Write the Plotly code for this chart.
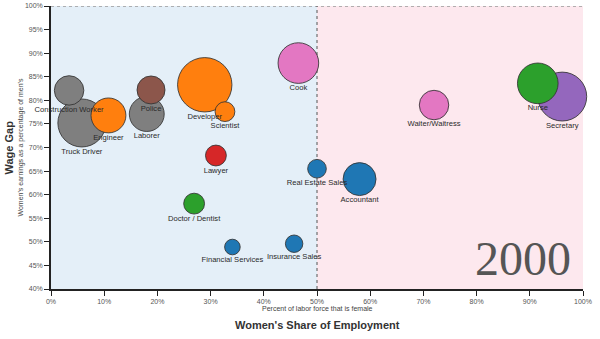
import plotly.graph_objects as go

jobs = ["Construction Worker", "Truck Driver", "Engineer", "Police", "Laborer",
        "Developer", "Scientist", "Cook", "Lawyer", "Doctor / Dentist",
        "Real Estate Sales", "Accountant", "Financial Services", "Insurance Sales",
        "Waiter/Waitress", "Nurse", "Secretary"]
pct_female = [3.4, 5.8, 10.8, 18.8, 18.0, 28.9, 32.7, 46.5, 31.0, 26.9,
              50.0, 58.0, 34.1, 45.7, 72.0, 91.5, 96.1]
wage_ratio = [82.1, 75.2, 76.8, 82.2, 77.1, 83.3, 77.6, 87.9, 68.3, 58.1,
              65.5, 63.3, 48.9, 49.6, 79.0, 83.6, 80.8]
employment = [2.0, 5.3, 2.8, 1.8, 2.8, 6.8, 0.9, 3.8, 1.0, 1.0,
              0.8, 2.5, 0.56, 0.7, 2.0, 3.8, 5.5]
colors = ["#7f7f7f", "#7f7f7f", "#ff7f0e", "#8c564b", "#7f7f7f",
          "#ff7f0e", "#ff7f0e", "#e377c2", "#d62728", "#2ca02c",
          "#1f77b4", "#1f77b4", "#1f77b4", "#1f77b4",
          "#e377c2", "#2ca02c", "#9467bd"]
x_ticks = list(range(0, 101, 10))
y_ticks = list(range(40, 101, 5))
x_tick_labels = [f"{v}%" for v in x_ticks]
y_tick_labels = [f"{v}%" for v in y_ticks]
year = "2000"

SIZEREF = 0.0046

# draw larger bubbles first so small ones sit on top
order = sorted(range(len(jobs)), key=lambda i: -employment[i])
xs = [pct_female[i] for i in order]
ys = [wage_ratio[i] for i in order]
sz = [employment[i] for i in order]

fig = go.Figure()
fig.add_trace(go.Scatter(
    x=xs, y=ys, text=[jobs[i] for i in order],
    mode="markers",
    marker=dict(size=sz, sizemode="area", sizeref=SIZEREF,
                color=[colors[i] for i in order], opacity=1,
                line=dict(color="rgba(50,50,50,0.85)", width=1)),
    cliponaxis=False,
    hoverinfo="text",
))
# labels: invisible markers scaled so the text sits just under each bubble
fig.add_trace(go.Scatter(
    x=xs, y=ys, text=[jobs[i] for i in order],
    mode="markers+text",
    textposition="bottom center",
    textfont=dict(family="Liberation Sans, Arial", size=7.6, color="#2a2a2a"),
    marker=dict(size=sz, sizemode="area", sizeref=SIZEREF / 0.64, opacity=0),
    cliponaxis=False,
    hoverinfo="skip",
))

fig.update_layout(
    width=600, height=339,
    margin=dict(l=51, r=17, t=6, b=50),
    paper_bgcolor="white", plot_bgcolor="white",
    showlegend=False,
    font=dict(family="Liberation Sans, Arial", color="#555"),
    shapes=[
        dict(type="rect", xref="x", yref="y", x0=0, x1=50, y0=40, y1=100,
             fillcolor="#e4eff8", line_width=0, layer="below"),
        dict(type="rect", xref="x", yref="y", x0=50, x1=100, y0=40, y1=100,
             fillcolor="#fde8ee", line_width=0, layer="below"),
        dict(type="line", xref="x", yref="y", x0=0, x1=100, y0=100, y1=100,
             line=dict(color="#999", width=1.5, dash="dot"), layer="below"),
        dict(type="line", xref="x", yref="y", x0=50, x1=50, y0=40, y1=100,
             line=dict(color="#555", width=1, dash="dot"), layer="below"),
    ],
    annotations=[
        dict(text=year, x=1, y=0, xref="paper", yref="paper", xanchor="right",
             yanchor="bottom", xshift=-10, yshift=2, showarrow=False,
             font=dict(family="Liberation Serif, Times New Roman", size=48, color="#555")),
        dict(text="Percent of labor force that is female", x=0.5, y=-0.05,
             xref="paper", yref="paper", xanchor="center", yanchor="top", showarrow=False,
             font=dict(size=7, color="#444")),
        dict(text="<b>Women's Share of Employment</b>", x=0.5, y=-0.10,
             xref="paper", yref="paper", xanchor="center", yanchor="top", showarrow=False,
             font=dict(size=11, color="#333")),
        dict(text="<b>Wage Gap</b>", x=0, xshift=-43, y=0.5, xref="paper", yref="paper",
             xanchor="center", yanchor="middle",
             textangle=-90, showarrow=False, font=dict(size=11, color="#333")),
        dict(text="Women's earnings as a percentage of men's", x=0, xshift=-31, y=0.5,
             xref="paper", yref="paper", xanchor="center", yanchor="middle",
             textangle=-90, showarrow=False,
             font=dict(size=7, color="#444")),
    ],
)
fig.update_xaxes(range=[0, 100], tickmode="array", tickvals=x_ticks, ticktext=x_tick_labels,
                 showgrid=False, automargin=False,
                 zeroline=False, showline=True, linecolor="#222", linewidth=1.5,
                 ticks="outside", ticklen=5, tickcolor="#222",
                 tickfont=dict(size=7, color="#555"))
fig.update_yaxes(range=[40, 100], tickmode="array", tickvals=y_ticks, ticktext=y_tick_labels,
                 showgrid=False, automargin=False,
                 zeroline=False, showline=True, linecolor="#222", linewidth=1.5,
                 ticks="outside", ticklen=5, tickcolor="#222",
                 tickfont=dict(size=7, color="#555"))

fig.write_html("out.html")
